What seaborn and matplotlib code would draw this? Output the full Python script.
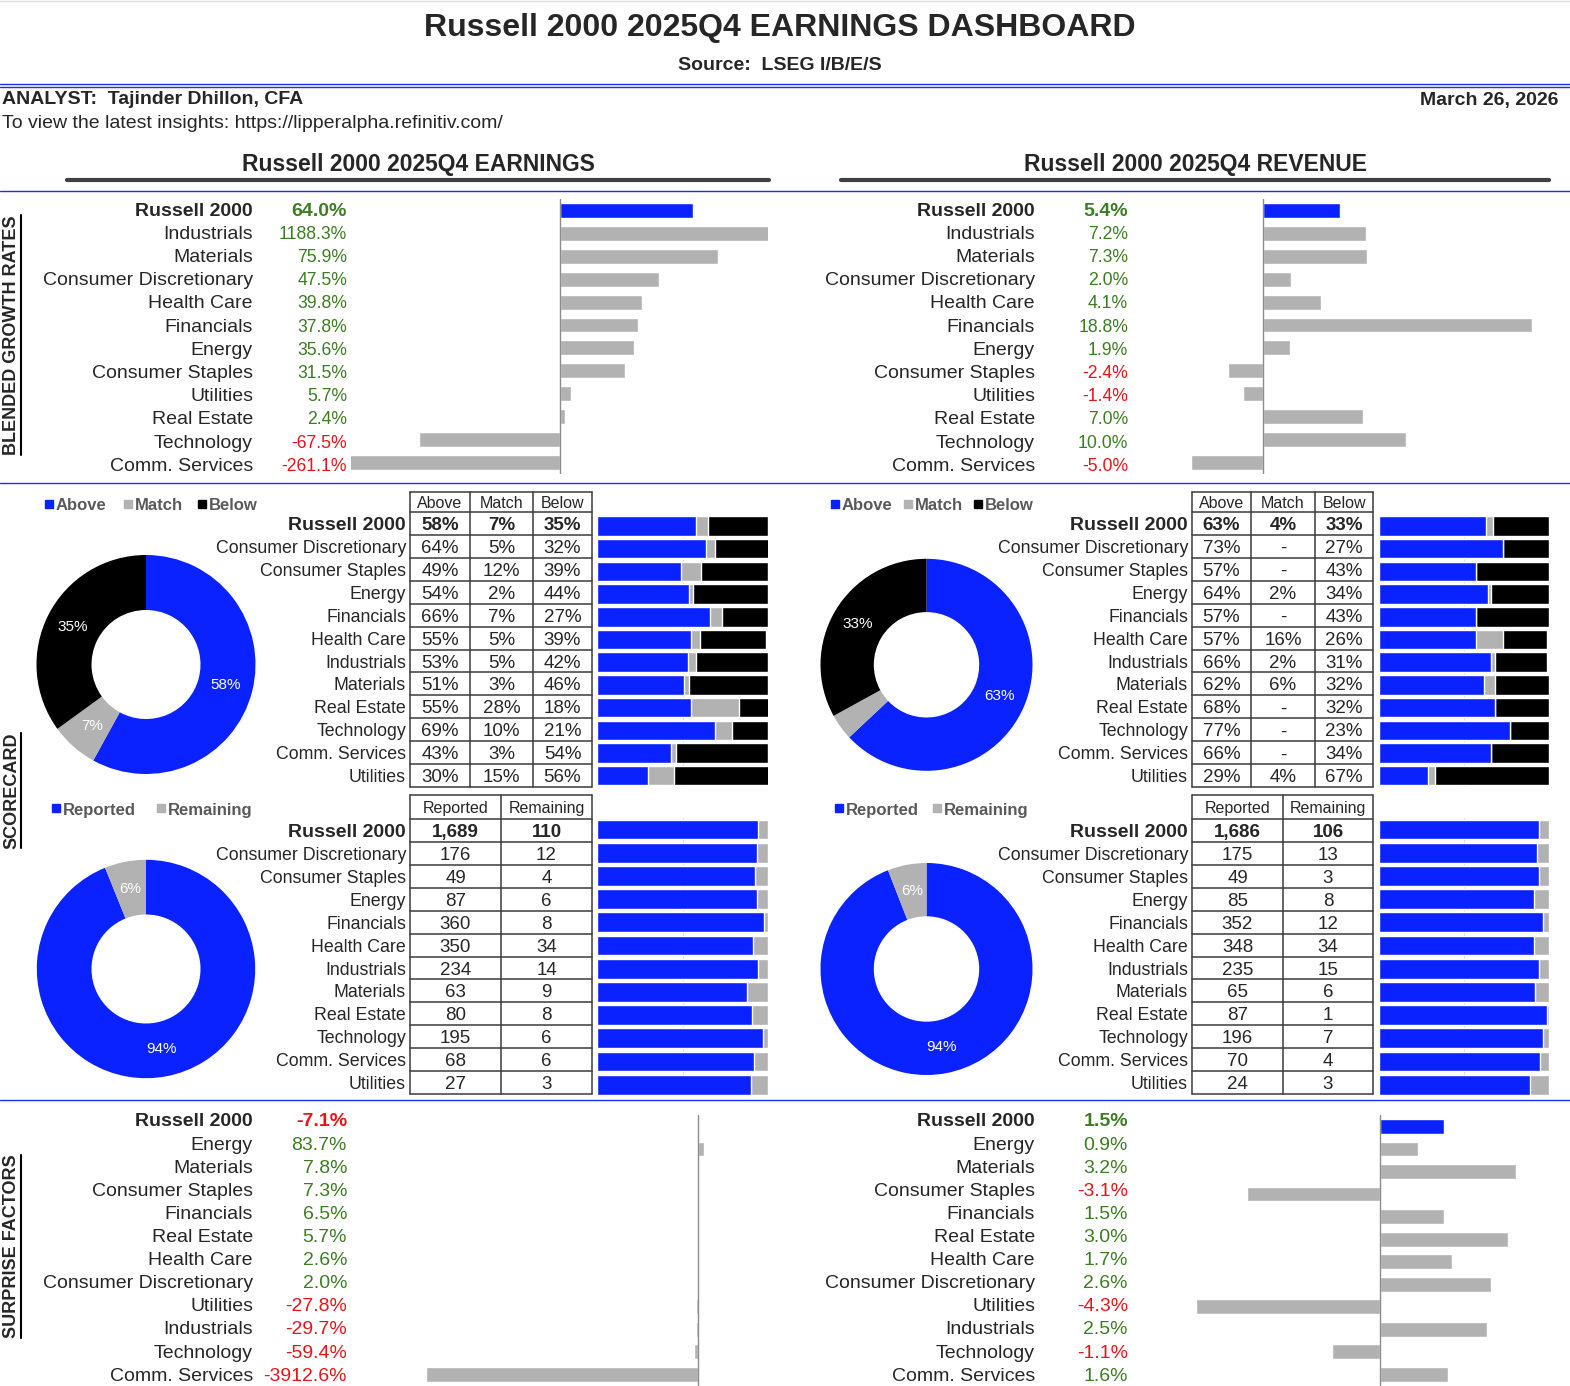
import matplotlib
matplotlib.use('Agg')
import matplotlib.pyplot as plt
from matplotlib.lines import Line2D
from matplotlib.patches import Rectangle
import pandas as pd
import seaborn as sns

# ---- data ----
growth_cats = ['Russell 2000', 'Industrials', 'Materials', 'Consumer Discretionary', 'Health Care',
               'Financials', 'Energy', 'Consumer Staples', 'Utilities', 'Real Estate',
               'Technology', 'Comm. Services']
earn_growth = [64.0, 1188.3, 75.9, 47.5, 39.8, 37.8, 35.6, 31.5, 5.7, 2.4, -67.5, -261.1]
rev_growth = [5.4, 7.2, 7.3, 2.0, 4.1, 18.8, 1.9, -2.4, -1.4, 7.0, 10.0, -5.0]

score_cats = ['Russell 2000', 'Consumer Discretionary', 'Consumer Staples', 'Energy', 'Financials',
              'Health Care', 'Industrials', 'Materials', 'Real Estate', 'Technology',
              'Comm. Services', 'Utilities']
earn_above = [58, 64, 49, 54, 66, 55, 53, 51, 55, 69, 43, 30]
earn_match = [7, 5, 12, 2, 7, 5, 5, 3, 28, 10, 3, 15]
earn_below = [35, 32, 39, 44, 27, 39, 42, 46, 18, 21, 54, 56]
rev_above = [63, 73, 57, 64, 57, 57, 66, 62, 68, 77, 66, 29]
rev_match = [4, 0, 0, 2, 0, 16, 2, 6, 0, 0, 0, 4]
rev_below = [33, 27, 43, 34, 43, 26, 31, 32, 32, 23, 34, 67]

earn_reported = [1689, 176, 49, 87, 360, 350, 234, 63, 80, 195, 68, 27]
earn_remaining = [110, 12, 4, 6, 8, 34, 14, 9, 8, 6, 6, 3]
rev_reported = [1686, 175, 49, 85, 352, 348, 235, 65, 87, 196, 70, 24]
rev_remaining = [106, 13, 3, 8, 12, 34, 15, 6, 1, 7, 4, 3]

surp_cats = ['Russell 2000', 'Energy', 'Materials', 'Consumer Staples', 'Financials', 'Real Estate',
             'Health Care', 'Consumer Discretionary', 'Utilities', 'Industrials', 'Technology',
             'Comm. Services']
surp_earn = [-7.1, 83.7, 7.8, 7.3, 6.5, 5.7, 2.6, 2.0, -27.8, -29.7, -59.4, -3912.6]
surp_rev = [1.5, 0.9, 3.2, -3.1, 1.5, 3.0, 1.7, 2.6, -4.3, 2.5, -1.1, 1.6]

BLUE = '#0a22ff'
GREY = '#b2b2b2'
GREEN = '#3c7d22'
RED = '#e8141a'
LINE_BLUE = '#1a2cff'

sns.set_style('white')
plt.rcParams['font.family'] = ['Liberation Sans', 'DejaVu Sans']

W, H = 1570, 1386
fig = plt.figure(figsize=(W / 100, H / 100), dpi=100)


def fx(x):
    return x / W


def fy(y):
    return 1 - y / H


def txt(x, y, s, **kw):
    # text sits a touch low in the reference, nudge everything down
    kw.setdefault('va', 'center')
    dy = 0 if kw.get('rotation') else 2
    fig.text(fx(x), fy(y + dy), s, **kw)


def hline(x0, x1, y, color='black', lw=1.0):
    fig.add_artist(Line2D([fx(x0), fx(x1)], [fy(y), fy(y)], color=color, lw=lw,
                          transform=fig.transFigure))


def vline(x, y0, y1, color='black', lw=1.0):
    fig.add_artist(Line2D([fx(x), fx(x)], [fy(y0), fy(y1)], color=color, lw=lw,
                          transform=fig.transFigure))


def add_ax(x0, y0, x1, y1):
    return fig.add_axes([fx(x0), fy(y1), (x1 - x0) / W, (y1 - y0) / H])


def pct_color(v):
    return GREEN if v >= 0 else RED


def signed_bars(box, cats, vals, xlim, row0, step, width):
    n = len(cats)
    ax = add_ax(box[0], row0 - step / 2, box[1], row0 + step * (n - 0.5))
    df = pd.DataFrame({'cat': cats, 'val': vals})
    pal = [BLUE] + [GREY] * (n - 1)
    sns.barplot(data=df, x='val', y='cat', hue='cat', palette=pal, legend=False,
                orient='h', saturation=1, width=width, ax=ax)
    ax.set_xlim(*xlim)
    ax.set_ylim(n - 0.5, -0.5)
    ax.axvline(0, color='#8c8c8c', lw=1)
    ax.set_axis_off()
    return ax


def row_texts(cats, vals, label_x, value_x, y0, step, val_size):
    for i, (c, v) in enumerate(zip(cats, vals)):
        y = y0 + step * i
        first = i == 0
        txt(label_x, y, c, ha='right', fontsize=14, fontweight='bold' if first else 'normal')
        txt(value_x, y, f'{v:.1f}%', ha='right', color=pct_color(v),
            fontsize=14 if first else val_size, fontweight='bold' if first else 'normal')


def stacked_bars(box, cats, parts, colors, row0, step):
    n = len(cats)
    ax = add_ax(box[0], row0 - step / 2, box[1], row0 + step * (n - 0.5))
    df = pd.DataFrame({'cat': cats})
    cum = [0] * n
    cums = []
    for p in parts:
        cum = [a + b for a, b in zip(cum, p)]
        cums.append(cum)
    ax.axvline(50, color='#d9d9d9', lw=0.8, zorder=0)
    for cum, col in reversed(list(zip(cums, colors))):
        df['v'] = cum
        sns.barplot(data=df, x='v', y='cat', color=col, orient='h', saturation=1,
                    width=0.86, ax=ax)
    ax.set_xlim(0, 100)
    ax.set_ylim(n - 0.5, -0.5)
    ax.set_axis_off()


def table(edges, top, hdr_bot, row_h, headers, cols, label_x, cats):
    n = len(cats)
    bottom = hdr_bot + row_h * n
    lc = '#3a3a3a'
    hline(edges[0], edges[-1], top, lc, 1.1)
    for i in range(n + 1):
        hline(edges[0], edges[-1], hdr_bot + row_h * i, lc, 1.1)
    for e in edges:
        vline(e, top, bottom, lc, 1.1)
    for j, hd in enumerate(headers):
        txt((edges[j] + edges[j + 1]) / 2, (top + hdr_bot) / 2, hd, ha='center', fontsize=11.5)
    for i, c in enumerate(cats):
        y = hdr_bot + row_h * (i + 0.5)
        first = i == 0
        txt(label_x, y, c, ha='right', fontsize=14 if first else 12.8,
            fontweight='bold' if first else 'normal')
        for j, col in enumerate(cols):
            txt((edges[j] + edges[j + 1]) / 2, y, col[i], ha='center', fontsize=13.5,
                fontweight='bold' if first else 'normal')


def donut(cx, cy, r, rin, vals, colors):
    ax = add_ax(cx - r, cy - r, cx + r, cy + r)
    ax.pie(vals, colors=colors, startangle=90, counterclock=False,
           wedgeprops=dict(width=(r - rin) / r, edgecolor='none'),
           autopct=lambda p: f'{p:.0f}%' if p >= 5 else '',
           pctdistance=(r + rin) / 2 / r, textprops=dict(color='white', fontsize=11))
    ax.set_xlim(-1, 1)
    ax.set_ylim(-1, 1)


def legend(items, y):
    for x, col, name in items:
        fig.add_artist(Rectangle((fx(x), fy(y + 4)), 8 / W, 8 / H, color=col,
                                 transform=fig.transFigure))
        txt(x + 11, y, name, fontsize=12, fontweight='bold', color='#595959')


def side_label(s, x, y0, y1):
    txt(x, (y0 + y1) / 2, s, ha='center', rotation=90, fontsize=13, fontweight='bold')
    vline(x + 9, y0, y1, 'black', 1.5)


def pct_cells(vals):
    return [f'{v}%' if v else '-' for v in vals]


# ---- header ----
hline(0, W, 1, '#dddddd', 1)
txt(780, 26, 'Russell 2000 2025Q4 EARNINGS DASHBOARD', ha='center', fontsize=23, fontweight='bold')
txt(780, 63, 'Source:  LSEG I/B/E/S', ha='center', fontsize=14, fontweight='bold')
hline(0, W, 84, LINE_BLUE, 1)
hline(0, W, 87, LINE_BLUE, 1)
txt(2, 98, 'ANALYST:  Tajinder Dhillon, CFA', ha='left', fontsize=14, fontweight='bold')
txt(1559, 98, 'March 26, 2026', ha='right', fontsize=14, fontweight='bold')
txt(2, 122, 'To view the latest insights: https://lipperalpha.refinitiv.com/', ha='left', fontsize=14)

txt(418, 162, 'Russell 2000 2025Q4 EARNINGS', ha='center', fontsize=16.5, fontweight='bold')
txt(1196, 162, 'Russell 2000 2025Q4 REVENUE', ha='center', fontsize=16.5, fontweight='bold')
hline(67, 769, 180, '#404040', 3)
hline(841, 1549, 180, '#404040', 3)
hline(0, W, 191, LINE_BLUE, 1)
hline(0, W, 483, LINE_BLUE, 1)
hline(0, W, 1100, LINE_BLUE, 1)

# ---- blended growth rates ----
side_label('BLENDED GROWTH RATES', 12, 215, 455)
signed_bars((351, 768), growth_cats, earn_growth, (-100, 100), 210.5, 22.9, 0.65)
signed_bars((1191, 1549), growth_cats, rev_growth, (-5, 20), 210.5, 22.9, 0.65)
row_texts(growth_cats, earn_growth, 253, 347, 209, 23.2, 12.7)
row_texts(growth_cats, rev_growth, 1035, 1128, 209, 23.2, 12.7)

# ---- scorecard ----
side_label('SCORECARD', 12, 733, 848)
legend([(45, BLUE, 'Above'), (124, GREY, 'Match'), (198, 'black', 'Below')], 504)
legend([(831, BLUE, 'Above'), (904, GREY, 'Match'), (974, 'black', 'Below')], 504)
legend([(52, BLUE, 'Reported'), (157, GREY, 'Remaining')], 808)
legend([(835, BLUE, 'Reported'), (933, GREY, 'Remaining')], 808)

donut(146, 664.5, 109.5, 54.5, [earn_above[0], earn_match[0], earn_below[0]], [BLUE, GREY, 'black'])
donut(926.5, 664.8, 106, 52.7, [rev_above[0], rev_match[0], rev_below[0]], [BLUE, GREY, 'black'])
donut(146, 969, 109.2, 54.5, [earn_reported[0], earn_remaining[0]], [BLUE, GREY])
donut(926.5, 969, 106, 52.7, [rev_reported[0], rev_remaining[0]], [BLUE, GREY])

table([410, 470, 533, 592], 491.7, 511.7, 22.97, ['Above', 'Match', 'Below'],
      [pct_cells(earn_above), pct_cells(earn_match), pct_cells(earn_below)], 406, score_cats)
table([1192, 1251, 1315, 1373], 491.7, 511.7, 22.97, ['Above', 'Match', 'Below'],
      [pct_cells(rev_above), pct_cells(rev_match), pct_cells(rev_below)], 1188, score_cats)
stacked_bars((597, 768), score_cats, [earn_above, earn_match, earn_below], [BLUE, GREY, 'black'], 526, 22.7)
stacked_bars((1379, 1549), score_cats, [rev_above, rev_match, rev_below], [BLUE, GREY, 'black'], 526, 22.7)

table([410, 501, 592], 795.3, 818.7, 22.97, ['Reported', 'Remaining'],
      [[f'{v:,}' for v in earn_reported], [f'{v:,}' for v in earn_remaining]], 406, score_cats)
table([1192, 1283, 1373], 795.3, 818.7, 22.97, ['Reported', 'Remaining'],
      [[f'{v:,}' for v in rev_reported], [f'{v:,}' for v in rev_remaining]], 1188, score_cats)
earn_rep_share = [100 * a / (a + b) for a, b in zip(earn_reported, earn_remaining)]
rev_rep_share = [100 * a / (a + b) for a, b in zip(rev_reported, rev_remaining)]
stacked_bars((597, 768), score_cats, [earn_rep_share, [100 - s for s in earn_rep_share]], [BLUE, GREY], 829.5, 23.2)
stacked_bars((1379, 1549), score_cats, [rev_rep_share, [100 - s for s in rev_rep_share]], [BLUE, GREY], 829.5, 23.2)

# ---- surprise factors ----
side_label('SURPRISE FACTORS', 12, 1155, 1338)
signed_bars((351, 768), surp_cats, surp_earn, (-4993, 1007), 1126.4, 22.55, 0.66)
signed_bars((1190, 1549), surp_cats, surp_rev, (-4.43, 3.96), 1126.4, 22.55, 0.66)
row_texts(surp_cats, surp_earn, 253, 347, 1120, 23.1, 14)
row_texts(surp_cats, surp_rev, 1035, 1128, 1120, 23.1, 14)

fig.savefig('out.png', dpi=100, facecolor='white')
